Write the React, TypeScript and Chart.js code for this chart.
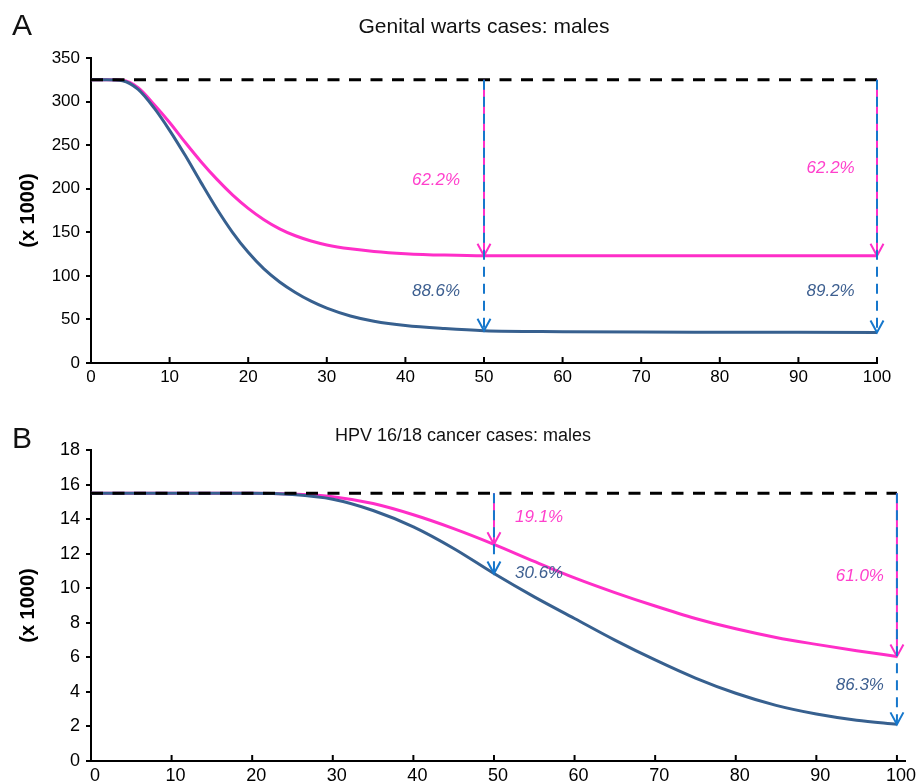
import React, { useEffect, useRef } from 'react';
import { Chart, registerables } from 'chart.js';

Chart.register(...registerables);

// ---------- Panel A: Genital warts cases, males (x 1000) ----------
const wartsYears = [0, 2, 4, 6, 8, 10, 12, 14, 16, 18, 20, 22, 24, 26, 28, 30, 33, 36, 40, 45, 50, 60, 70, 80, 90, 100];
const wartsMagenta = [325, 325, 324.5, 316, 297, 276, 253, 231, 211, 193, 177.5, 164.5, 154, 146, 140, 135.5, 131, 128, 125.5, 123.8, 123, 123, 123, 123, 123, 123];
const wartsBlue = [325, 325, 324, 314, 293, 267, 238, 207, 177, 150, 127, 108, 93, 81, 71, 63, 54, 48, 43, 39.5, 37.1, 36, 35.5, 35.3, 35.2, 35.1];
const wartsBaseline = 325;
const wartsArrowYears = [50, 100];
const wartsMagentaPct = ['62.2%', '62.2%'];
const wartsBluePct = ['88.6%', '89.2%'];

// ---------- Panel B: HPV 16/18 cancer cases, males (x 1000) ----------
const cancerYears = [0, 10, 20, 25, 30, 35, 40, 45, 50, 55, 60, 65, 70, 75, 80, 85, 90, 95, 100];
const cancerMagenta = [15.5, 15.5, 15.5, 15.45, 15.3, 14.9, 14.25, 13.45, 12.54, 11.55, 10.6, 9.75, 8.97, 8.25, 7.65, 7.15, 6.75, 6.38, 6.05];
const cancerBlue = [15.5, 15.5, 15.5, 15.42, 15.15, 14.5, 13.55, 12.3, 10.85, 9.5, 8.25, 7.0, 5.85, 4.8, 3.92, 3.22, 2.72, 2.36, 2.12];
const cancerBaseline = 15.5;
const cancerArrowYears = [50, 100];
const cancerMagentaPct = ['19.1%', '61.0%'];
const cancerBluePct = ['30.6%', '86.3%'];

const MAGENTA = '#ff2ec8';
const MAGENTA_TEXT = '#ff40cc';
const CURVE_BLUE = '#37608f';
const ARROW_BLUE = '#1677cc';
const TEXT_BLUE = '#3d5f90';
const FONT = '"Liberation Sans", Arial, Helvetica, sans-serif';

type PanelCfg = {
  letter: string;
  title: string;
  titleX: number;
  titleY: number;
  titleSize: number;
  tickSize: number;
  xLabelOffset: number;
  letterBaseline: number;
  years: number[];
  magenta: number[];
  blue: number[];
  baseline: number;
  arrowYears: number[];
  magentaPct: string[];
  bluePct: string[];
  // label anchor positions (data units)
  labelX: number[];
  magentaLabelY: number[];
  blueLabelY: number[];
  xMax: number;
  yMax: number;
  yStep: number;
  padRight: number;
  xAxisHeight: number;
};

const panels: PanelCfg[] = [
  {
    letter: 'A',
    title: 'Genital warts cases: males',
    titleX: 484,
    titleY: 27,
    titleSize: 21,
    tickSize: 17,
    xLabelOffset: 0,
    letterBaseline: 35,
    years: wartsYears,
    magenta: wartsMagenta,
    blue: wartsBlue,
    baseline: wartsBaseline,
    arrowYears: wartsArrowYears,
    magentaPct: wartsMagentaPct,
    bluePct: wartsBluePct,
    labelX: [43.9, 94.1],
    magentaLabelY: [210, 224],
    blueLabelY: [82.7, 82.7],
    xMax: 100,
    yMax: 350,
    yStep: 50,
    padRight: 44,
    xAxisHeight: 29,
  },
  {
    letter: 'B',
    title: 'HPV 16/18 cancer cases: males',
    titleX: 463,
    titleY: 44,
    titleSize: 18,
    tickSize: 18,
    xLabelOffset: 4,
    letterBaseline: 56,
    years: cancerYears,
    magenta: cancerMagenta,
    blue: cancerBlue,
    baseline: cancerBaseline,
    arrowYears: cancerArrowYears,
    magentaPct: cancerMagentaPct,
    bluePct: cancerBluePct,
    labelX: [55.6, 95.4],
    magentaLabelY: [14.08, 10.7],
    blueLabelY: [10.86, 4.4],
    xMax: 101,
    yMax: 18,
    yStep: 2,
    padRight: 16,
    xAxisHeight: 23,
  },
];

function valueAt(years: number[], vals: number[], x: number): number {
  const i = years.indexOf(x);
  if (i >= 0) return vals[i];
  for (let k = 0; k < years.length - 1; k++) {
    if (x >= years[k] && x <= years[k + 1]) {
      const t = (x - years[k]) / (years[k + 1] - years[k]);
      return vals[k] + t * (vals[k + 1] - vals[k]);
    }
  }
  return vals[vals.length - 1];
}

function arrowHead(ctx: CanvasRenderingContext2D, x: number, y: number, color: string) {
  ctx.save();
  ctx.setLineDash([]);
  ctx.strokeStyle = color;
  ctx.lineWidth = 2;
  ctx.beginPath();
  ctx.moveTo(x - 6.5, y - 12);
  ctx.lineTo(x, y);
  ctx.lineTo(x + 6.5, y - 12);
  ctx.stroke();
  ctx.restore();
}

function makePlugin(cfg: PanelCfg) {
  return {
    id: 'panelDecor',
    afterDatasetsDraw(chart: any) {
      const ctx: CanvasRenderingContext2D = chart.ctx;
      const xs = chart.scales.x;
      const ys = chart.scales.y;
      const area = chart.chartArea;

      // inward x tick marks
      ctx.save();
      ctx.strokeStyle = '#000';
      ctx.lineWidth = 2;
      xs.ticks.forEach((t: any) => {
        const px = xs.getPixelForValue(t.value);
        ctx.beginPath();
        ctx.moveTo(px, area.bottom);
        ctx.lineTo(px, area.bottom - 6);
        ctx.stroke();
      });
      ctx.restore();

      // arrows
      cfg.arrowYears.forEach((yr) => {
        const px = xs.getPixelForValue(yr);
        const yb = ys.getPixelForValue(cfg.baseline);
        const ym = ys.getPixelForValue(valueAt(cfg.years, cfg.magenta, yr));
        const yl = ys.getPixelForValue(valueAt(cfg.years, cfg.blue, yr));
        ctx.save();
        ctx.strokeStyle = MAGENTA;
        ctx.lineWidth = 2;
        ctx.beginPath();
        ctx.moveTo(px, yb);
        ctx.lineTo(px, ym);
        ctx.stroke();
        ctx.restore();
        arrowHead(ctx, px, ym, MAGENTA);

        ctx.save();
        ctx.strokeStyle = ARROW_BLUE;
        ctx.lineWidth = 2;
        ctx.setLineDash([10, 7]);
        ctx.beginPath();
        ctx.moveTo(px, yb);
        ctx.lineTo(px, yl);
        ctx.stroke();
        ctx.restore();
        arrowHead(ctx, px, yl, ARROW_BLUE);
      });

      // percentage labels
      ctx.save();
      ctx.font = `italic 17px ${FONT}`;
      ctx.textAlign = 'center';
      ctx.textBaseline = 'middle';
      cfg.arrowYears.forEach((_, i) => {
        ctx.fillStyle = MAGENTA_TEXT;
        ctx.fillText(cfg.magentaPct[i], xs.getPixelForValue(cfg.labelX[i]), ys.getPixelForValue(cfg.magentaLabelY[i]));
        ctx.fillStyle = TEXT_BLUE;
        ctx.fillText(cfg.bluePct[i], xs.getPixelForValue(cfg.labelX[i]), ys.getPixelForValue(cfg.blueLabelY[i]));
      });
      ctx.restore();

      // title and panel letter
      ctx.save();
      ctx.fillStyle = '#111';
      ctx.font = `${cfg.titleSize}px ${FONT}`;
      ctx.textAlign = 'center';
      ctx.textBaseline = 'middle';
      ctx.fillText(cfg.title, cfg.titleX, cfg.titleY);
      ctx.font = `30px ${FONT}`;
      ctx.textAlign = 'left';
      ctx.textBaseline = 'alphabetic';
      ctx.fillText(cfg.letter, 12, cfg.letterBaseline);
      ctx.restore();
    },
  };
}

function Panel({ cfg, top }: { cfg: PanelCfg; top: number }) {
  const ref = useRef<HTMLCanvasElement | null>(null);
  useEffect(() => {
    if (!ref.current) return;
    const tickFont = { family: FONT, size: cfg.tickSize };
    const chart = new Chart(ref.current, {
      type: 'line',
      data: {
        datasets: [
          {
            label: 'Baseline',
            data: [
              { x: 0, y: cfg.baseline },
              { x: cfg.arrowYears[cfg.arrowYears.length - 1], y: cfg.baseline },
            ],
            borderColor: '#000',
            borderWidth: 3,
            borderDash: [12, 9.5],
            pointRadius: 0,
            order: 0,
          },
          {
            label: 'Magenta',
            data: cfg.years.map((x, i) => ({ x, y: cfg.magenta[i] })),
            borderColor: MAGENTA,
            borderWidth: 3,
            pointRadius: 0,
            cubicInterpolationMode: 'monotone',
            order: 2,
          },
          {
            label: 'Blue',
            data: cfg.years.map((x, i) => ({ x, y: cfg.blue[i] })),
            borderColor: CURVE_BLUE,
            borderWidth: 3,
            pointRadius: 0,
            cubicInterpolationMode: 'monotone',
            order: 1,
          },
        ],
      },
      options: {
        animation: false,
        responsive: true,
        maintainAspectRatio: false,
        layout: { padding: { top: 58, right: cfg.padRight, left: 0, bottom: 0 } },
        plugins: {
          legend: { display: false },
          tooltip: { enabled: false },
          title: { display: false },
        },
        scales: {
          x: {
            type: 'linear',
            min: 0,
            max: cfg.xMax,
            ticks: {
              stepSize: 10,
              includeBounds: false,
              padding: 4,
              labelOffset: cfg.xLabelOffset,
              font: tickFont,
              color: '#000',
              maxRotation: 0,
              autoSkip: false,
            },
            grid: { display: false, drawTicks: false },
            border: { display: true, color: '#000', width: 2 },
            afterFit: (s: any) => {
              s.height = cfg.xAxisHeight;
            },
          },
          y: {
            type: 'linear',
            min: 0,
            max: cfg.yMax,
            ticks: { stepSize: cfg.yStep, padding: 6, font: tickFont, color: '#000' },
            grid: { drawOnChartArea: false, drawTicks: true, tickLength: 5, color: '#000', lineWidth: 2 },
            border: { display: true, color: '#000', width: 2 },
            title: {
              display: true,
              text: '(x 1000)',
              color: '#000',
              font: { family: FONT, size: 20, weight: 'bold' },
              padding: { top: 16, bottom: 0 },
            },
            afterFit: (s: any) => {
              s.width = 91;
            },
          },
        },
      } as any,
      plugins: [makePlugin(cfg)],
    });
    return () => chart.destroy();
  }, [cfg]);
  return (
    <div style={{ position: 'absolute', left: 0, top, width: 921, height: 392 }}>
      <canvas ref={ref} />
    </div>
  );
}

export default function App() {
  return (
    <div style={{ position: 'fixed', left: 0, top: 0, width: 921, height: 784, background: '#fff', overflow: 'hidden' }}>
      <Panel cfg={panels[0]} top={0} />
      <Panel cfg={panels[1]} top={392} />
    </div>
  );
}
